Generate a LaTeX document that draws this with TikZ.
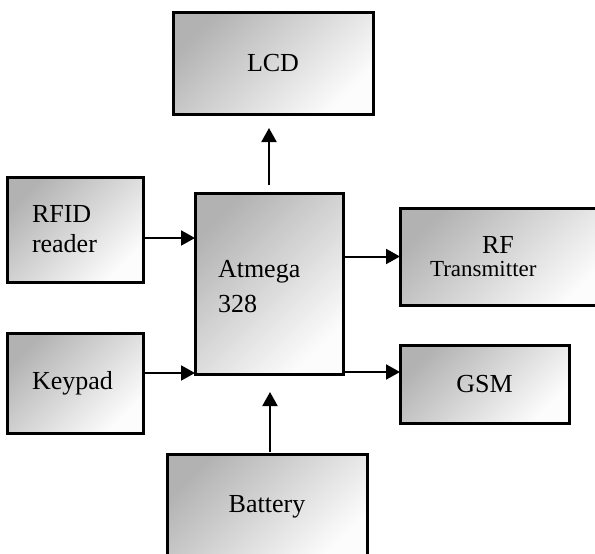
\documentclass[tikz,border=0pt]{standalone}
\usepackage{fontspec}
\setmainfont{Liberation Serif}
\usetikzlibrary{arrows.meta, positioning}

\begin{document}
\begin{tikzpicture}[x=1pt, y=-1pt,
  block/.style={draw, line width=3pt, rectangle, outer sep=0pt, inner sep=0pt,
    top color=black!30, bottom color=black!1, shading angle=45,
    font=\fontsize{26}{30}\selectfont},
  arr/.style={line width=2pt, -{Triangle[length=14pt, width=15pt]}}]

\useasboundingbox (0,0) rectangle (595,554);
\fill[white] (0,0) rectangle (595,554);

\node[block, minimum width=200pt, minimum height=102pt] (lcd) at (273,63) {LCD};
\node[block, minimum width=136pt, minimum height=105pt, align=left, text width=86pt, inner xsep=25pt] (rfid) at (75,229.5) {RFID\\reader};
\node[block, minimum width=148pt, minimum height=181pt, align=left, text width=102pt, inner xsep=23pt] (atmega) at (269,283.5) {\\[-7pt]Atmega\\[5pt]328};
\node[block, minimum width=210pt, minimum height=97pt, align=left, text width=150pt, inner xsep=30pt] (rf) at (505,256.5) {\hspace*{52pt}RF\\[-7pt]{\fontsize{23}{23}\selectfont Transmitter}};
\node[block, minimum width=136pt, minimum height=100pt, align=left, text width=86pt, inner xsep=25pt] (keypad) at (75,383) {Keypad};
\node[block, minimum width=169pt, minimum height=78pt] (gsm) at (484.5,384) {GSM};
\node[block, minimum width=200pt, minimum height=106pt] (battery) at (267,507) {Battery};

\draw[arr, shorten <=8pt, shorten >=14pt] (atmega.north) -- (atmega.north |- lcd.south);
\draw[arr, shorten <=2pt, shorten >=18pt] ([xshift=3pt]battery.north) -- ([xshift=3pt]battery.north |- atmega.south);
\draw[arr] ([yshift=-8.5pt]rfid.east) -- ([yshift=-8.5pt]rfid.east -| atmega.west);
\draw[arr] ([yshift=10pt]keypad.east) -- ([yshift=10pt]keypad.east -| atmega.west);
\draw[arr] (rf.west -| atmega.east) -- (rf.west);
\draw[arr] ([yshift=12pt]gsm.west -| atmega.east) -- ([yshift=12pt]gsm.west);

\end{tikzpicture}
\end{document}
